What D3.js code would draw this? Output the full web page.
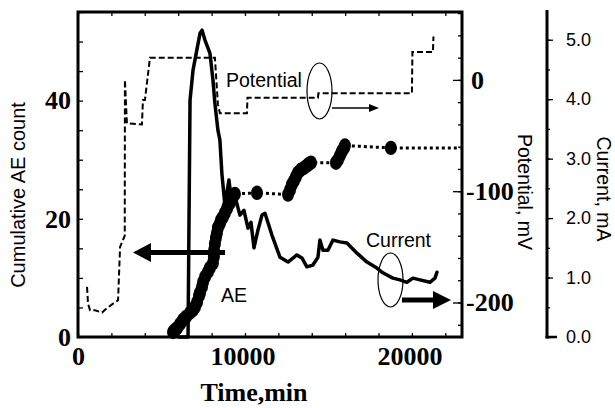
<!DOCTYPE html>
<html>
<head>
<meta charset="utf-8">
<script src="https://cdn.jsdelivr.net/npm/d3@7"></script>
<style>
  html, body { margin: 0; padding: 0; background: #fff; }
  svg { display: block; }
</style>
</head>
<body>
<svg id="chart" width="615" height="408"></svg>
<script>
// ---- data -------------------------------------------------------------
// Cumulative acoustic-emission count (left axis)
const aeTime  = [5690, 5810, 5930, 6110, 6290, 6470, 6710, 6890, 7010, 7130, 7250, 7310, 7430, 7490, 7610, 7780, 7900, 8080, 8140, 8150, 8200, 8260, 8320, 8380, 8500, 8560, 8680, 8800, 8920, 8980, 9100, 9160, 9280, 9400,
                 10720,
                 12580, 12700, 12810, 12930, 13050, 13170, 13350, 13530, 13710, 13830, 13950,
                 15450, 15570, 15690, 15810, 15930, 15990,
                 18740, 22900];
const aeCount = [0.85, 1.2, 1.5, 2.2, 2.9, 3.4, 4.1, 4.6, 5.1, 5.9, 7.0, 7.5, 8.5, 9.3, 10.2, 11.0, 11.7, 12.5, 13.6, 14.7, 15.8, 16.8, 17.6, 18.5, 19.2, 19.8, 20.3, 21.0, 21.7, 22.2, 22.7, 23.2, 23.7, 24.2,
                 24.4,
                 24.1, 24.9, 25.8, 26.4, 27.1, 27.8, 28.3, 28.6, 29.0, 29.3, 29.5,
                 29.5, 30.0, 30.7, 31.4, 32.0, 32.4,
                 32.0, 32.0];

// Potential, mV (first right axis)
const potTime = [540, 600, 720, 1020, 1440, 1740, 2100, 2400, 2520, 2800, 2810, 2930, 3830, 3890, 4010, 4310, 8200, 8380, 8500, 10120, 10150, 14370, 14400, 20000, 20030, 21260, 21290];
const potMV   = [-186, -201, -207, -207, -209, -205, -201, -198, -150, -140, 0, -39, -40, -18, -18, 20, 20, -22, -30, -30, -16, -16, -12, -12, 25, 25, 39];

// Current, mA (second right axis)
const curTime = [6000, 6590, 6710, 6890, 7310, 7430, 7610, 7905, 8084, 8200, 8380, 8500, 8620, 8800, 9040, 9220, 9460, 9700, 9940, 10180, 10360, 10540, 10780, 11020, 11200, 11620, 12100, 12580, 13110, 13410, 13710, 14070, 14370, 14490, 14670, 14970, 15270, 15690, 16110, 16710, 17310, 17900, 18260, 18860, 19280, 19700, 20060, 20480, 21080, 21380, 21500];
const curMA   = [0, 0, 3.98, 4.49, 5.11, 5.16, 4.99, 4.77, 4.32, 3.93, 3.48, 3.31, 2.74, 2.22, 2.64, 2.22, 2.30, 2.05, 2.13, 1.83, 1.93, 1.50, 1.80, 2.05, 2.08, 1.71, 1.34, 1.26, 1.38, 1.33, 1.18, 1.21, 1.34, 1.63, 1.46, 1.46, 1.63, 1.60, 1.58, 1.41, 1.26, 1.16, 1.08, 0.99, 0.96, 0.92, 0.99, 0.96, 0.92, 0.99, 1.09];

// tick values
const timeTicks     = d3.range(0, 22001, 2000);
const timeLabels    = [0, 10000, 20000];
const aeTicks       = d3.range(0, 56, 5);
const aeLabels      = [0, 20, 40];
const potTicks      = d3.range(-220, 61, 20);
const potLabels     = [0, -100, -200];
const curTicks      = d3.range(0, 5.01, 0.5);
const curLabels     = [0, 1, 2, 3, 4, 5];

// ---- layout -------------------------------------------------------------
const plotL = 78, plotR = 462, plotT = 12, plotB = 337;
const curAxisX = 547;
const serif = "'Liberation Serif', 'Times New Roman', serif";
const sans  = "'Liberation Sans', Arial, sans-serif";

const svg = d3.select("#chart");

const x    = d3.scaleLinear().domain([0, 23000]).range([plotL, plotR]);
const yAE  = d3.scaleLinear().domain([0, 55]).range([plotB, plotT]);
const yPot = d3.scaleLinear().domain([-231, 61]).range([plotB, plotT]);
const yCur = d3.scaleLinear().domain([0, 5.5]).range([plotB, 10]);

function styleAxis(g, font, size, weight) {
  g.attr("font-family", font).attr("font-size", size).attr("font-weight", weight);
  g.selectAll(".tick line").attr("stroke", "#000").attr("stroke-width", 1.3);
  g.selectAll(".tick text").attr("fill", "#000");
}

// bottom time axis
const gx = svg.append("g").attr("transform", `translate(0,${plotB})`)
  .call(d3.axisBottom(x).tickValues(timeTicks).tickSizeInner(-4).tickSizeOuter(0).tickPadding(9.5)
    .tickFormat(d => timeLabels.includes(d) ? String(d) : ""));
gx.select(".domain").remove();
styleAxis(gx, serif, 26, "bold");
gx.selectAll(".tick text").attr("dx", d => d === 0 ? 0 : -2.5);

// top time axis (ticks only)
const gxt = svg.append("g").attr("transform", `translate(0,${plotT})`)
  .call(d3.axisTop(x).tickValues(timeTicks).tickSizeInner(-4).tickSizeOuter(0).tickFormat(""));
gxt.select(".domain").remove();
styleAxis(gxt, serif, 26, "bold");

// left AE axis
const gy = svg.append("g").attr("transform", `translate(${plotL},0)`)
  .call(d3.axisLeft(yAE).tickValues(aeTicks).tickSizeInner(-5).tickSizeOuter(0).tickPadding(7)
    .tickFormat(d => aeLabels.includes(d) ? String(d) : ""));
gy.select(".domain").remove();
styleAxis(gy, serif, 26, "bold");

// right potential axis: minor then major ticks
const gp = svg.append("g").attr("transform", `translate(${plotR},0)`)
  .call(d3.axisRight(yPot).tickValues(potTicks).tickSizeInner(-4).tickSizeOuter(0).tickFormat(""));
gp.select(".domain").remove();
styleAxis(gp, serif, 26, "bold");
const gpm = svg.append("g").attr("transform", `translate(${plotR},0)`)
  .call(d3.axisRight(yPot).tickValues(potLabels).tickSizeInner(-9).tickSizeOuter(0).tickPadding(9)
    .tickFormat(d => d === 0 ? "0" : "-" + Math.abs(d)));
gpm.select(".domain").remove();
styleAxis(gpm, serif, 26, "bold");
gpm.selectAll(".tick text").attr("dx", d => d < 0 ? -5 : 0);

// current axis (separate, outside the frame)
const gc = svg.append("g").attr("transform", `translate(${curAxisX},0)`)
  .call(d3.axisRight(yCur).tickValues(curTicks).tickSizeInner(3).tickSizeOuter(0).tickFormat(""));
gc.select(".domain").remove();
styleAxis(gc, sans, 18, "normal");
const gcm = svg.append("g").attr("transform", `translate(${curAxisX},0)`)
  .call(d3.axisRight(yCur).tickValues(curLabels).tickSizeInner(6).tickSizeOuter(0).tickPadding(13)
    .tickFormat(d3.format(".1f")));
gcm.select(".domain").remove();
styleAxis(gcm, sans, 18, "normal");
svg.append("line")
  .attr("x1", curAxisX).attr("x2", curAxisX)
  .attr("y1", yCur.range()[1]).attr("y2", plotB + 1.5)
  .attr("stroke", "#000").attr("stroke-width", 3);
svg.append("line")
  .attr("x1", curAxisX - 1.5).attr("x2", curAxisX + 10)
  .attr("y1", plotB).attr("y2", plotB)
  .attr("stroke", "#000").attr("stroke-width", 2.5);

// plot frame
svg.append("rect")
  .attr("x", plotL).attr("y", plotT)
  .attr("width", plotR - plotL).attr("height", plotB - plotT)
  .attr("fill", "none").attr("stroke", "#000").attr("stroke-width", 3);

// ---- series -----------------------------------------------------------
const potData = potTime.map((t, i) => [t, potMV[i]]);
svg.append("path")
  .datum(potData)
  .attr("d", d3.line().x(d => x(d[0])).y(d => yPot(d[1])))
  .attr("fill", "none").attr("stroke", "#000").attr("stroke-width", 2)
  .attr("stroke-dasharray", "6,3");

const curData = curTime.map((t, i) => [t, curMA[i]]);
svg.append("path")
  .datum(curData)
  .attr("d", d3.line().x(d => x(d[0])).y(d => yCur(d[1])))
  .attr("fill", "none").attr("stroke", "#000").attr("stroke-width", 3.5)
  .attr("stroke-linejoin", "round").attr("stroke-linecap", "round");

const aeData = aeTime.map((t, i) => [t, aeCount[i]]);
svg.append("path")
  .datum(aeData)
  .attr("d", d3.line().x(d => x(d[0])).y(d => yAE(d[1])))
  .attr("fill", "none").attr("stroke", "#000").attr("stroke-width", 3)
  .attr("stroke-dasharray", "3,3");
// markers at recorded events (the final point only closes the record)
svg.append("g").selectAll("ellipse")
  .data(aeData.slice(0, -1))
  .join("ellipse")
  .attr("cx", d => x(d[0])).attr("cy", d => yAE(d[1]))
  .attr("rx", 6).attr("ry", 7.2)
  .attr("fill", "#000");

// ---- annotations ------------------------------------------------------
// AE -> left axis
svg.append("line").attr("x1", 148).attr("x2", 225).attr("y1", 252.5).attr("y2", 252.5)
  .attr("stroke", "#000").attr("stroke-width", 5);
svg.append("path").attr("d", "M133,252.5 L151,243 L151,262 Z").attr("fill", "#000");
svg.append("text").attr("x", 221).attr("y", 302).text("AE")
  .attr("font-family", sans).attr("font-size", 19.5);

// Potential -> right axis
svg.append("text").attr("x", 226).attr("y", 87).text("Potential")
  .attr("font-family", sans).attr("font-size", 19.5);
svg.append("ellipse").attr("cx", 319.5).attr("cy", 91).attr("rx", 12.5).attr("ry", 28)
  .attr("fill", "none").attr("stroke", "#000").attr("stroke-width", 1.2);
svg.append("line").attr("x1", 332).attr("x2", 371).attr("y1", 108).attr("y2", 108)
  .attr("stroke", "#000").attr("stroke-width", 1.5);
svg.append("path").attr("d", "M379,108 L369,104 L369,112 Z").attr("fill", "#000");

// Current -> current axis
svg.append("text").attr("x", 366).attr("y", 247).text("Current")
  .attr("font-family", sans).attr("font-size", 19.5);
svg.append("ellipse").attr("cx", 390.5).attr("cy", 280).attr("rx", 12.5).attr("ry", 27)
  .attr("fill", "none").attr("stroke", "#000").attr("stroke-width", 1.2);
svg.append("line").attr("x1", 402).attr("x2", 436).attr("y1", 300).attr("y2", 300)
  .attr("stroke", "#000").attr("stroke-width", 5);
svg.append("path").attr("d", "M451,300 L433,291 L433,309 Z").attr("fill", "#000");

// ---- axis titles --------------------------------------------------------
svg.append("text").attr("x", 254).attr("y", 401).attr("text-anchor", "middle")
  .attr("font-family", serif).attr("font-weight", "bold").attr("font-size", 26)
  .text("Time,min");
svg.append("text").attr("transform", "translate(25,195) rotate(-90)")
  .attr("text-anchor", "middle").attr("font-family", sans).attr("font-size", 20)
  .text("Cumulative AE count");
svg.append("text").attr("transform", "translate(518,192) rotate(90)")
  .attr("text-anchor", "middle").attr("font-family", sans).attr("font-size", 19.5)
  .text("Potential, mV");
svg.append("text").attr("transform", "translate(597,189) rotate(90)")
  .attr("text-anchor", "middle").attr("font-family", sans).attr("font-size", 19.5)
  .text("Current, mA");
</script>
</body>
</html>
